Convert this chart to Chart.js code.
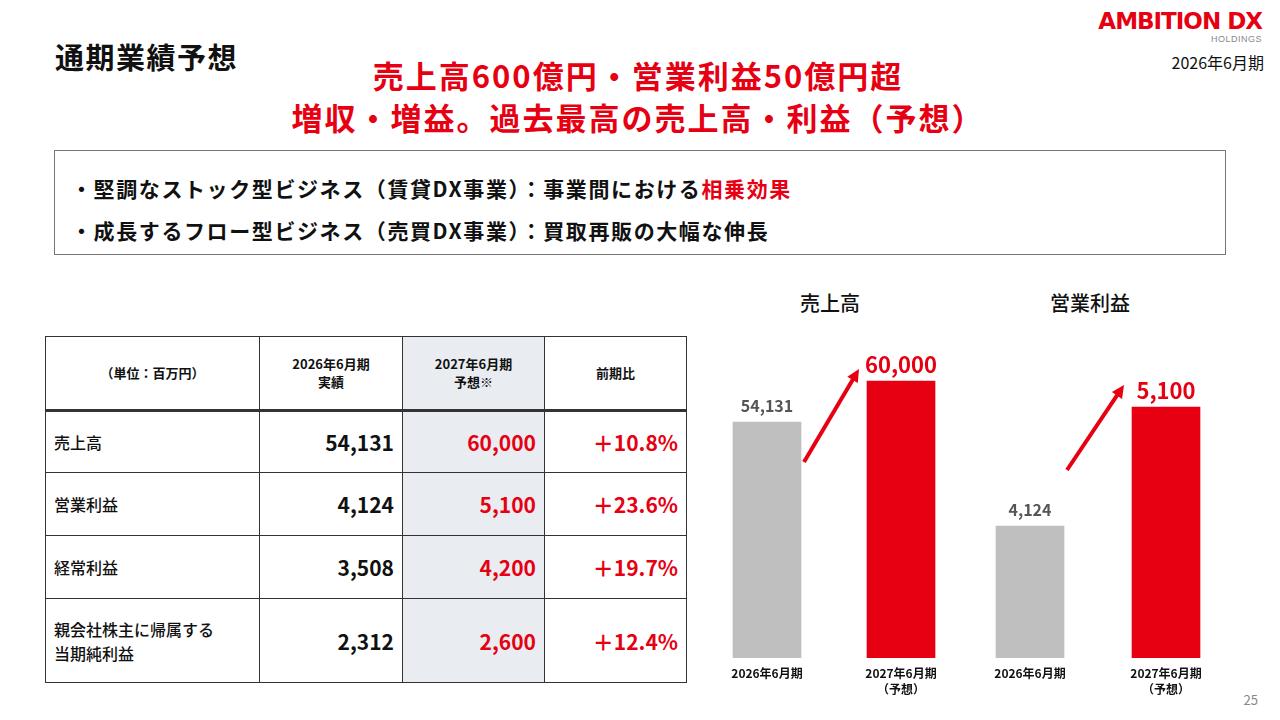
<!DOCTYPE html>
<html lang="ja">
<head>
<meta charset="UTF-8">
<script src="https://cdn.jsdelivr.net/npm/chart.js"></script>
<style>
  body { margin:0; width:1280px; height:720px; background:#fff; position:relative; overflow:hidden;
         font-family:"Noto Sans CJK JP","Noto Sans",sans-serif; color:#111; }
  .abs { position:absolute; }
  #title { left:55px; top:35px; font-size:29px; font-weight:700; letter-spacing:1.5px; }
  #logo { right:18px; top:8px; text-align:right; color:#e60012; font-family:"DejaVu Sans",sans-serif; font-weight:900; font-size:23px; letter-spacing:-1px; line-height:26px; }
  #logo small { display:block; font-size:9px; color:#888; font-weight:400; letter-spacing:0.5px; line-height:10px; font-family:"Liberation Sans",sans-serif; }
  #period { right:16px; top:50px; font-size:16px; }
  #head { left:0; width:1276px; top:54px; text-align:center; color:#e60012; font-size:31px; font-weight:700; line-height:42px; letter-spacing:2px; }
  #box { left:54px; top:150px; width:1172px; height:105px; border:1px solid #777; box-sizing:border-box; font-size:21px; font-weight:700; padding:16px 0 0 16px; line-height:42px; letter-spacing:1.6px; font-feature-settings:"palt" 0; }
  #box .r { color:#e60012; }
  table { position:absolute; left:45px; top:336px; border-collapse:collapse; }
  td { border:1px solid #333; padding:0 8px; }
  td.h { text-align:center; font-size:13px; font-weight:700; height:72px; line-height:18px; }
  td.n { text-align:right; font-size:21px; font-weight:700; }
  td.l { font-size:16px; font-weight:500; }
  .sh { background:#e9edf2; }
  .red { color:#e60012; }
  tr.b td { border-top:3px solid #333; }
  .ct { font-size:20px; font-weight:500; top:288px; }
  #page { right:22px; top:690px; font-size:13px; color:#888; }
</style>
</head>
<body>
<div id="title" class="abs">通期業績予想</div>
<div id="logo" class="abs">AMBITION DX<small>HOLDINGS</small></div>
<div id="period" class="abs">2026年6月期</div>
<div id="head" class="abs">売上高600億円・営業利益50億円超<br>増収・増益。過去最高の売上高・利益（予想）</div>
<div id="box" class="abs">・堅調なストック型ビジネス（賃貸DX事業）：事業間における<span class="r">相乗効果</span><br>・成長するフロー型ビジネス（売買DX事業）：買取再販の大幅な伸長</div>

<table>
  <tr><td class="h" style="width:197px">（単位：百万円）</td><td class="h" style="width:126px">2026年6月期<br>実績</td><td class="h sh" style="width:125px">2027年6月期<br>予想※</td><td class="h" style="width:125px">前期比</td></tr>
  <tr class="b" style="height:62px"><td class="l">売上高</td><td class="n">54,131</td><td class="n sh red">60,000</td><td class="n red">＋10.8%</td></tr>
  <tr style="height:63px"><td class="l">営業利益</td><td class="n">4,124</td><td class="n sh red">5,100</td><td class="n red">＋23.6%</td></tr>
  <tr style="height:63px"><td class="l">経常利益</td><td class="n">3,508</td><td class="n sh red">4,200</td><td class="n red">＋19.7%</td></tr>
  <tr style="height:84px"><td class="l">親会社株主に帰属する<br>当期純利益</td><td class="n">2,312</td><td class="n sh red">2,600</td><td class="n red">＋12.4%</td></tr>
</table>

<div class="abs ct" style="left:800px">売上高</div>
<div class="abs ct" style="left:1050px">営業利益</div>
<div class="abs" style="left:700px;top:340px;width:268px;height:360px"><canvas id="c1"></canvas></div>
<div class="abs" style="left:962px;top:340px;width:272px;height:360px"><canvas id="c2"></canvas></div>
<div id="page" class="abs">25</div>

<script>
const periods = [["2026年6月期"], ["2027年6月期", "（予想）"]];
const salesValues = [54131, 60000];
const profitValues = [4124, 5100];
const barColors = ["#bfbfbf", "#e60012"];

const decor = {
  id: "decor",
  afterDatasetsDraw(chart, args, opts) {
    const ctx = chart.ctx;
    const meta = chart.getDatasetMeta(0);
    const data = chart.data.datasets[0].data;
    ctx.save();
    ctx.textAlign = "center";
    meta.data.forEach((bar, i) => {
      // value labels
      if (i === 0) { ctx.fillStyle = "#555"; ctx.font = "700 16px 'Noto Sans CJK JP'"; ctx.fillText(data[i].toLocaleString("en-US"), bar.x, bar.y - 10); }
      else { ctx.fillStyle = "#e60012"; ctx.font = "700 22px 'Noto Sans CJK JP'"; ctx.fillText(data[i].toLocaleString("en-US"), bar.x, bar.y - 8); }
      // category labels
      ctx.fillStyle = "#111"; ctx.font = "700 12px 'Noto Sans CJK JP'";
      chart.data.labels[i].forEach((t, k) => ctx.fillText(t, bar.x, chart.chartArea.bottom + 20 + k * 16));
    });
    // arrow
    const a = meta.data[0], b = meta.data[1];
    const x1 = a.x + 37, y1 = a.y + opts.startDy, x2 = b.x - 42, y2 = b.y + opts.endDy;
    const ang = Math.atan2(y2 - y1, x2 - x1);
    ctx.strokeStyle = ctx.fillStyle = "#e60012"; ctx.lineWidth = 4;
    ctx.beginPath(); ctx.moveTo(x1, y1); ctx.lineTo(x2 - 8 * Math.cos(ang), y2 - 8 * Math.sin(ang)); ctx.stroke();
    ctx.beginPath(); ctx.moveTo(x2, y2);
    ctx.lineTo(x2 - 14 * Math.cos(ang - 0.45), y2 - 14 * Math.sin(ang - 0.45));
    ctx.lineTo(x2 - 14 * Math.cos(ang + 0.45), y2 - 14 * Math.sin(ang + 0.45));
    ctx.closePath(); ctx.fill();
    ctx.restore();
  }
};

function makeChart(id, values, min, max, startDy, endDy) {
  new Chart(document.getElementById(id), {
    type: "bar",
    data: { labels: periods, datasets: [{ data: values, backgroundColor: barColors, barThickness: 68 }] },
    options: {
      responsive: true, maintainAspectRatio: false, animation: false,
      layout: { padding: { bottom: 42 } },
      plugins: { legend: { display: false }, tooltip: { enabled: false }, decor: { startDy, endDy } },
      scales: {
        x: { display: false },
        y: { display: false, min, max }
      }
    },
    plugins: [decor]
  });
}
makeChart("c1", salesValues, 20350, 65870, 40, -12);
makeChart("c2", profitValues, 3041, 5650, -56, -22);
</script>
</body>
</html>
